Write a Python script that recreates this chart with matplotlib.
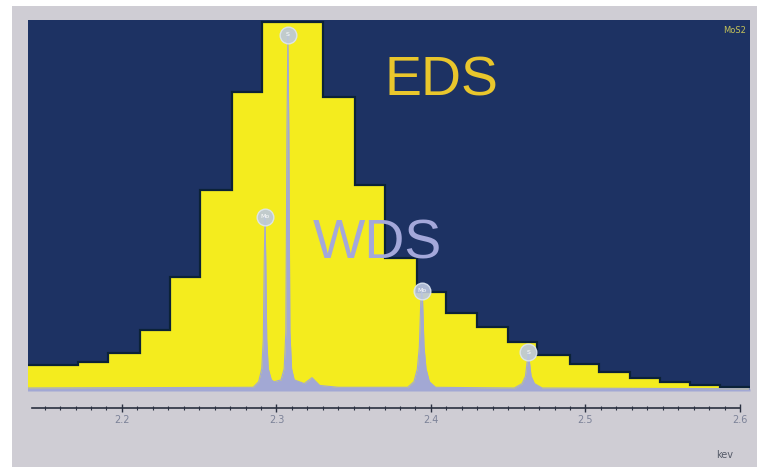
import numpy as np
import matplotlib.pyplot as plt
from matplotlib.patches import Rectangle

# EDS histogram: bin edges (keV) and counts (% of max)
eds_edges = [2.132, 2.152, 2.1715, 2.191, 2.2117, 2.231, 2.2505, 2.2712, 2.2906,
             2.3107, 2.330, 2.3508, 2.370, 2.391, 2.410, 2.4298, 2.4498, 2.4686,
             2.490, 2.509, 2.529, 2.548, 2.5676, 2.587, 2.6065]
eds_counts = [7.0, 7.0, 7.8, 10.2, 16.4, 30.7, 54.2, 80.6, 99.5, 99.5, 79.2, 55.5,
              35.8, 26.7, 21.0, 17.3, 13.2, 9.7, 7.3, 5.1, 3.5, 2.4, 1.6, 1.1]

# WDS spectrum: energy (keV) and counts
wds_kev = [2.132, 2.2850, 2.2885, 2.2905, 2.2915, 2.2921, 2.2926, 2.2931, 2.2937,
           2.2947, 2.2967, 2.2985, 2.3030, 2.3050, 2.3061, 2.3068, 2.3074, 2.3080,
           2.3087, 2.3098, 2.3115, 2.3180, 2.3230, 2.3280, 2.3400, 2.3850, 2.3890,
           2.3912, 2.3925, 2.3934, 2.3940, 2.3946, 2.3955, 2.3968, 2.3990, 2.4030,
           2.4540, 2.4590, 2.4612, 2.4623, 2.4630, 2.4637, 2.4648, 2.4670, 2.4720,
           2.6065]
wds_counts = [0.8, 1.0, 2.5, 6, 14, 35, 47, 35, 14,
              6, 3, 2.5, 3, 6, 16, 70, 96, 70,
              16, 6, 3, 2.0, 3.6, 1.5, 1.0, 1.0, 2.5,
              6, 12, 24, 27, 24, 12, 6, 2.5, 1.0,
              0.8, 2, 4, 8, 10.5, 8, 4, 2, 0.8,
              0.6]

# labelled WDS lines
line_kev = [2.2926, 2.3074, 2.3940, 2.4630]
line_top = [47, 96, 27, 10.5]
line_names = ['Mo', 'S', 'Mo', 'S']

major_ticks = [2.2, 2.3, 2.4, 2.5, 2.6]
tick_labels = ['2.2', '2.3', '2.4', '2.5', '2.6']

navy = '#1d3263'
yellow = '#f4ec1e'
wds_color = '#a2a8d4'

fig = plt.figure(figsize=(7.59, 4.72), dpi=100)
fig.patch.set_facecolor('white')
fig.add_artist(Rectangle((12 / 759, 5 / 472), 745 / 759, 461 / 472,
                         transform=fig.transFigure, facecolor='#cfcdd4',
                         edgecolor='none', zorder=-10))

ax = fig.add_axes([28 / 759, 81 / 472, 722 / 759, 371 / 472])
ax.set_facecolor(navy)

ax.stairs(eds_counts, eds_edges, fill=True, color=yellow, zorder=2)
ax.stairs(eds_counts, eds_edges, fill=False, color='#0b2238', lw=1.6, zorder=2)

ax.fill_between(wds_kev, wds_counts, color=wds_color, lw=0, zorder=3)
ax.plot(wds_kev, wds_counts, color=wds_color, lw=0.8, zorder=3)

for k, h, name in zip(line_kev, line_top, line_names):
    ax.plot(k, h, 'o', ms=12, mfc='#bcc8e0', mec='#dde6f2', mew=1, alpha=0.9, zorder=4)
    ax.text(k, h, name, color='white', fontsize=4.5, ha='center', va='center', zorder=5)

ax.text(2.4065, 83.3, 'EDS', color='#e9c62c', fontsize=40, family='Liberation Sans',
        ha='center', va='center', zorder=5)
ax.text(2.3651, 39.4, 'WDS', color='#a4a8da', fontsize=40, family='Liberation Sans',
        ha='center', va='center', zorder=5)
ax.text(0.995, 0.985, 'MoS2', color='#c4c25a', fontsize=6, ha='right', va='top',
        transform=ax.transAxes, zorder=5)

ax.set_xlim(2.1392, 2.6065)
ax.set_ylim(0, 100)
ax.set_yticks([])
for s in ['top', 'left', 'right']:
    ax.spines[s].set_visible(False)
ax.spines['bottom'].set_position(('outward', 12.2))
ax.spines['bottom'].set_bounds(2.1415, 2.6)
ax.spines['bottom'].set_color('#2a3040')
ax.spines['bottom'].set_linewidth(1.2)
ax.set_xticks(major_ticks)
ax.set_xticklabels(tick_labels)
ax.set_xticks(np.arange(2.15, 2.6, 0.01), minor=True)
ax.tick_params(axis='x', which='major', direction='inout', length=6, width=1,
               color='#2a3040', labelsize=7, labelcolor='#7c8298', pad=2)
ax.tick_params(axis='x', which='minor', direction='inout', length=3, width=0.8,
               color='#2a3040')

fig.text(725 / 759, 1 - 455 / 472, 'kev', color='#555a68', fontsize=7,
         ha='center', va='center')

fig.savefig('out.png', dpi=100)
